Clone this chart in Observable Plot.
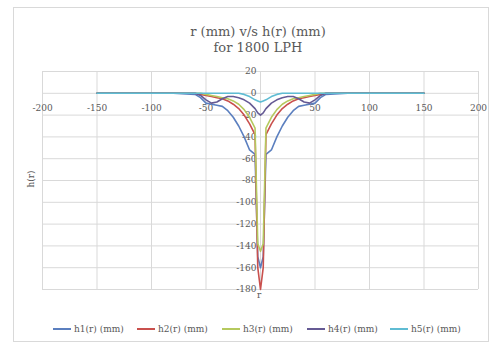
<!DOCTYPE html>
<html><head><meta charset="utf-8">
<script src="https://cdn.jsdelivr.net/npm/d3@7"></script>
<script src="https://cdn.jsdelivr.net/npm/@observablehq/plot@0.6"></script>
<style>
body{margin:0;background:#fff;font-family:"DejaVu Serif",serif;width:492px;height:347px;overflow:hidden;position:relative;}
#frame{position:absolute;left:13px;top:7px;width:476px;height:335px;border:1px solid #d9d9d9;box-sizing:border-box;}
#title{position:absolute;left:0;width:516px;top:24px;text-align:center;color:#595959;font-size:13px;line-height:16px;}
#chart{position:absolute;left:0;top:60px;}
#xt{position:absolute;left:257px;top:290px;color:#595959;font-size:9px;}
#yt{position:absolute;left:16px;top:174px;color:#595959;font-size:9px;transform:rotate(-90deg);transform-origin:center;width:30px;text-align:center;}
#legend{position:absolute;top:324px;left:0;width:492px;height:14px;}
.li{position:absolute;top:0;display:flex;align-items:center;font-size:9px;color:#595959;white-space:nowrap;}
.sw{display:inline-block;width:18px;height:2px;margin-right:3px;}
</style></head>
<body>
<div id="frame"></div>
<div id="title">r (mm) v/s h(r) (mm)<br>for 1800 LPH</div>
<div id="chart"></div>
<div id="xt">r</div>
<div id="yt">h(r)</div>
<div id="legend"></div>
<script>
const r  = [-150,-80,-60,-55,-50,-45,-40,-35,-30,-25,-20,-15,-10,-5,-2.5,0,2.5,5,10,15,20,25,30,35,40,45,50,55,60,80,150];
const h1 = [0,0,-1,-4,-9,-10,-11,-12,-16,-22,-30,-40,-52,-56,-150,-160,-150,-56,-52,-40,-30,-22,-16,-12,-11,-10,-9,-4,-1,0,0];
const h2 = [0,0,0,-1,-2,-3,-4,-5,-7,-10,-14,-20,-28,-38,-160,-180,-160,-38,-28,-20,-14,-10,-7,-5,-4,-3,-2,-1,0,0,0];
const h3 = [0,0,0,0,-1,-2,-3,-4,-5,-7,-10,-15,-22,-32,-138,-145,-138,-32,-22,-15,-10,-7,-5,-4,-3,-2,-1,0,0,0,0];
const h4 = [0,0,0,-2,-6,-9,-8,-5,-3,-3,-4,-6,-9,-14,-18,-20,-18,-14,-9,-6,-4,-3,-3,-5,-8,-9,-6,-2,0,0,0];
const h5 = [0,0,0,0,0,0,0,0,0,0,0,-1,-3,-6,-7,-8,-7,-6,-3,-1,0,0,0,0,0,0,0,0,0,0,0];
const seriesNames = ["h1(r) (mm)","h2(r) (mm)","h3(r) (mm)","h4(r) (mm)","h5(r) (mm)"];
const seriesColors = ["#5b7fbf","#c9504d","#b5c95e","#655a94","#5fbcd3"];
const xTicks = [-200,-150,-100,-50,0,50,100,150,200];
const yTicks = [20,0,-20,-40,-60,-80,-100,-120,-140,-160,-180];

const all = [h1,h2,h3,h4,h5];
const data = [];
all.forEach((arr,i)=>arr.forEach((v,j)=>data.push({r:r[j],h:v,s:seriesNames[i]})));
const fmt = d => String(d);

const plot = Plot.plot({
  width:492, height:249,
  marginLeft:42, marginRight:14, marginTop:11, marginBottom:20,
  x:{domain:[-200,200], axis:null},
  y:{domain:[-180,20], axis:null},
  color:{domain:seriesNames, range:seriesColors},
  style:{fontFamily:"'DejaVu Serif',serif", background:"transparent"},
  marks:[
    Plot.ruleX(xTicks,{stroke:"#d9d9d9", strokeWidth:1}),
    Plot.ruleY(yTicks,{stroke:"#d9d9d9", strokeWidth:1}),
    Plot.text(xTicks.filter(d=>d!==0),{x:d=>d, y:0, text:fmt, dy:15, fill:"#595959", fontSize:9}),
    Plot.text(yTicks,{x:0, y:d=>d, text:fmt, dx:-4, textAnchor:"end", fill:"#595959", fontSize:9}),
    Plot.line(data,{x:"r", y:"h", z:"s", stroke:"s", strokeWidth:1.6})
  ]
});
document.getElementById("chart").appendChild(plot);

const lx = [53,137,222,307,390];
const lg = document.getElementById("legend");
seriesNames.forEach((n,i)=>{
  const d = document.createElement("div");
  d.className="li"; d.style.left = lx[i]+"px";
  d.innerHTML = `<span class="sw" style="background:${seriesColors[i]}"></span>${n}`;
  lg.appendChild(d);
});
</script>
</body></html>
